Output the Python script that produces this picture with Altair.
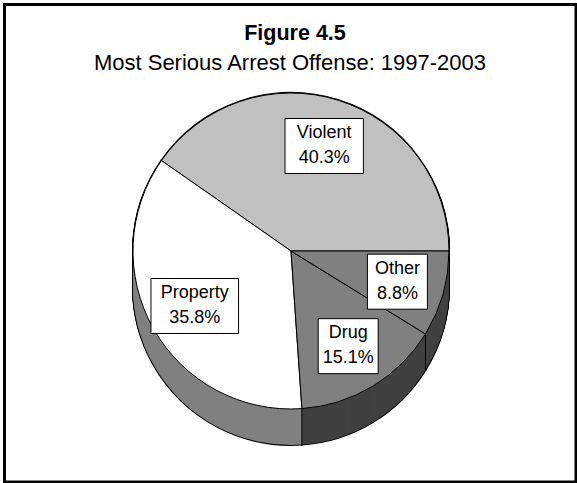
import math
import altair as alt
import pandas as pd

# ---- data ----
categories = ["Violent", "Property", "Drug", "Other"]
shares = [40.3, 35.8, 15.1, 8.8]
top_colors = ["#C0C0C0", "#FFFFFF", "#808080", "#808080"]
side_colors = ["#606060", "#808080", "#404040", "#404040"]
title_text = ["Figure 4.5"]
subtitle_text = ["Most Serious Arrest Offense: 1997-2003"]

# ---- layout ----
W, H = 577, 483
CX, CY, R, D = 291, 251, 158, 36
LR = 0.70 * R
LH = 25
FONT = "Liberation Sans"

df = pd.DataFrame({"cat": categories, "share": shares,
                   "rank": list(range(len(categories)))})

theta_scale = alt.Scale(domain=[0, 100],
                        range=[math.pi / 2, math.pi / 2 + 2 * math.pi])

base = alt.Chart(df).transform_stack(
    stack="share", groupby=[], as_=["t0", "t1"],
    sort=[alt.SortField("rank", order="descending")])

theta_enc = dict(theta=alt.Theta("t0:Q", scale=theta_scale), theta2="t1:Q")
side_color = alt.Color("cat:N", scale=alt.Scale(domain=categories, range=side_colors),
                       legend=None)
top_color = alt.Color("cat:N", scale=alt.Scale(domain=categories, range=top_colors),
                      legend=None)

# side (depth) of the pie: copies of the pie shifted down
side_strokes = [
    base.mark_arc(radius=R, stroke="black", strokeWidth=2, fill="black").encode(
        x=alt.value(CX), y=alt.value(CY + d), **theta_enc)
    for d in range(D, -1, -1)
]
side_fills = [
    base.mark_arc(radius=R, strokeWidth=0).encode(
        x=alt.value(CX), y=alt.value(CY + d), color=side_color, **theta_enc)
    for d in range(D, -1, -1)
]

edges = (base
         .transform_calculate(a="PI/2 + datum.t1/100*2*PI")
         .transform_filter("cos(datum.a) < -0.01")
         .transform_calculate(bx=f"{CX} + {R}*sin(datum.a)",
                              by=f"{CY} - {R}*cos(datum.a)",
                              by2=f"{CY} - {R}*cos(datum.a) + {D}")
         .mark_rule(color="black", strokeWidth=1)
         .encode(x=alt.X("bx:Q", scale=None), y=alt.Y("by:Q", scale=None),
                 y2="by2:Q"))

top = base.mark_arc(radius=R, stroke="black", strokeWidth=1).encode(
    x=alt.value(CX), y=alt.value(CY), color=top_color, **theta_enc)

lab = (base
       .transform_calculate(am="PI/2 + (datum.t0 + datum.t1)/200*2*PI",
                            pct="format(datum.share, '.1f') + '%'")
       .transform_calculate(lx=f"{CX} + {LR}*sin(datum.am)",
                            ly=f"{CY} - {LR}*cos(datum.am)",
                            bw="max(length(datum.cat), length(datum.pct))*9.2 + 14",
                            txt="datum.cat + '\\n' + datum.pct")
       .transform_calculate(ty=f"datum.ly - {LH / 2}"))

boxes = (lab
         .transform_calculate(x0="datum.lx - datum.bw/2", x1="datum.lx + datum.bw/2",
                              y0="datum.ly - 27", y1="datum.ly + 28")
         .mark_rect(fill="white", stroke="black", strokeWidth=1)
         .encode(x=alt.X("x0:Q", scale=None), x2="x1:Q",
                 y=alt.Y("y0:Q", scale=None), y2="y1:Q"))

texts = lab.mark_text(font=FONT, fontSize=18, lineHeight=LH, baseline="middle",
                      align="center", lineBreak="\n", color="black").encode(
    x=alt.X("lx:Q", scale=None), y=alt.Y("ty:Q", scale=None), text="txt:N")

title = alt.Chart(pd.DataFrame({"t": title_text})).mark_text(
    font=FONT, fontSize=21.5, fontWeight="bold", align="center", color="black"
).encode(text="t:N", x=alt.value(295), y=alt.value(34))

subtitle = alt.Chart(pd.DataFrame({"t": subtitle_text})).mark_text(
    font=FONT, fontSize=22, align="center", color="black"
).encode(text="t:N", x=alt.value(290), y=alt.value(63))

frame = alt.Chart(pd.DataFrame({"t": title_text})).mark_rect(
    fillOpacity=0, stroke="black", strokeWidth=3
).encode(x=alt.value(4.5), x2=alt.value(576), y=alt.value(4.5), y2=alt.value(482))

chart = (alt.layer(*side_strokes, *side_fills, edges, top, boxes, texts,
                   title, subtitle, frame)
         .resolve_scale(color="independent")
         .properties(width=W, height=H, padding=0,
                     autosize=alt.AutoSizeParams(type="none"),
                     background="white")
         .configure_view(strokeWidth=0))

chart.save("out.html", embed_options={"renderer": "svg", "actions": False})
